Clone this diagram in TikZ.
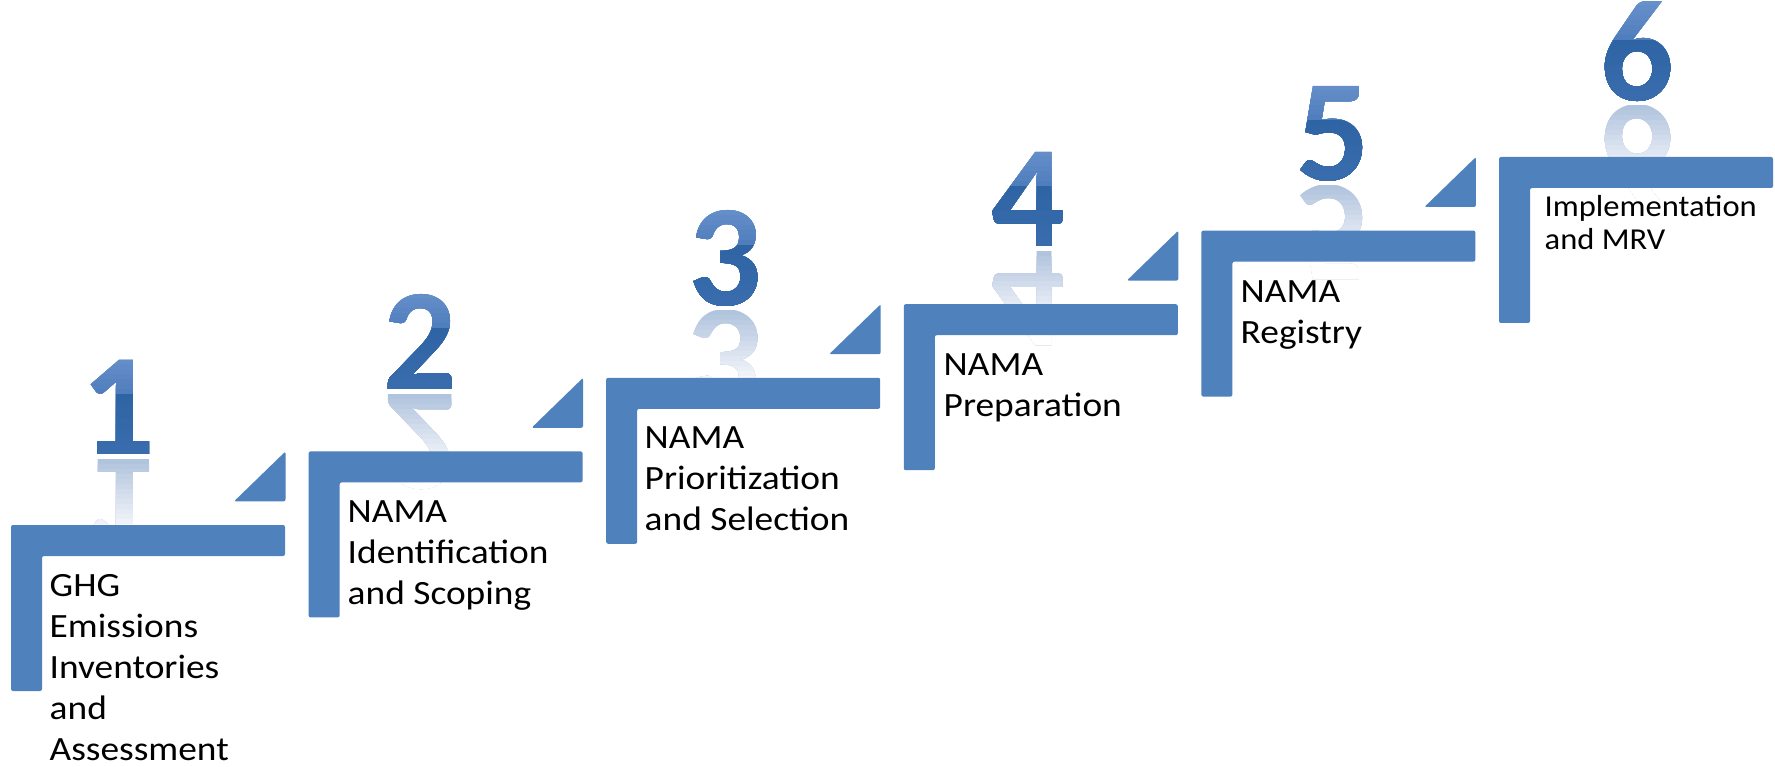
\documentclass[tikz,border=0pt]{standalone}
\usepackage{fontspec}
\setmainfont{Carlito}
\newfontfamily\widefont{Carlito}[FakeStretch=1.1]
\newfontfamily\smallwidefont{Carlito}[FakeStretch=1.07]
\definecolor{stepblue}{HTML}{4F81BD}
\definecolor{dgtop}{HTML}{6E96CE}
\definecolor{dgmid}{HTML}{4D7CBB}
\definecolor{dgbot}{HTML}{2F64A4}
\definecolor{dglow}{HTML}{3A6EAE}
\definecolor{reflblue}{HTML}{7D9CC8}
\tikzset{
  stepshape/.style={fill=stepblue, rounded corners=2pt},
  digitfont/.style={font=\fontsize{145}{145}\selectfont\bfseries, inner sep=0pt, anchor=base},
  steptext/.style={font=\widefont\fontsize{34}{41}\selectfont, align=left, inner sep=0pt, anchor=base west, text=black},
  smalltext/.style={steptext, font=\smallwidefont\fontsize{30.4}{33.3}\selectfont},
}
% #1 name, #2 x centre, #3 baseline y, #4 digit
\newcommand\stepdigit[4]{%
  % reflection, fading out downwards (opaque colours mixed with white)
  \foreach \i in {0,...,15}{%
    \pgfmathtruncatemacro\pr{60*(1-\i/15)}%
    \colorlet{rfcur}{reflblue!\pr!white}%
    \begin{scope}
      \clip (#2-60, #3+5+\i*5) rectangle (#2+60, #3+100);
      \node[digitfont, yscale=-1, text=rfcur] (#1r\i) at (#2, #3+5) {#4};
    \end{scope}
  }%
  % main glyph, two-tone glassy shading
  \foreach \j in {0,...,20}{%
    \pgfmathtruncatemacro\pa{\j<10 ? 100-\j*10 : 0}%
    \pgfmathtruncatemacro\pb{\j<10 ? 0 : (\j-10)*8}%
    \ifnum\j<10
      \colorlet{dgcur}{dgtop!\pa!dgmid}%
    \else
      \colorlet{dgcur}{dglow!\pb!dgbot}%
    \fi
    \begin{scope}
      \clip (#2-60, #3-110+\j*5) rectangle (#2+60, #3+4);
      \node[digitfont, text=dgcur] (#1m\j) at (#2, #3) {#4};
    \end{scope}
  }%
}

\begin{document}
\begin{tikzpicture}[x=1pt, y=-1pt]
  \fill[white] (0,0) rectangle (1775,767);
  \useasboundingbox (0,0) rectangle (1775,767);

  % digits with reflections
  \stepdigit{d1}{118}{454}{1}
  \stepdigit{d2}{420}{389}{2}
  \stepdigit{d3}{725}{306}{3}
  \stepdigit{d4}{1028}{247}{4}
  \stepdigit{d5}{1333}{181}{5}
  \stepdigit{d6}{1637}{101}{6}

  % steps
  \foreach \k in {0,...,5}{%
    \pgfmathsetmacro\X{11+297.6*\k}%
    \pgfmathsetmacro\Y{525-73.6*\k}%
    \fill[stepshape] (\X,\Y) -- (\X+274,\Y) -- (\X+274,\Y+31) -- (\X+31,\Y+31)
      -- (\X+31,\Y+166) -- (\X,\Y+166) -- cycle;
    \ifnum\k<5
      \fill[stepshape] (\X+223,\Y-23.6) -- (\X+274.5,\Y-73.6) -- (\X+274.5,\Y-23.6) -- cycle;
    \fi
  }

  % labels (anchor = baseline of the last line)
  \node[steptext] (t1) at (49.5,760) {GHG\\Emissions\\Inventories\\and\\Assessment};
  \node[steptext] (t2) at (347.5,604) {NAMA\\Identification\\and Scoping};
  \node[steptext] (t3) at (644.5,530) {NAMA\\Prioritization\\and Selection};
  \node[steptext] (t4) at (943.5,416) {NAMA\\Preparation};
  \node[steptext] (t5) at (1240.5,343) {NAMA\\Registry};
  \node[smalltext] (t6) at (1544.5,250) {Implementation\\and MRV};
\end{tikzpicture}
\end{document}
